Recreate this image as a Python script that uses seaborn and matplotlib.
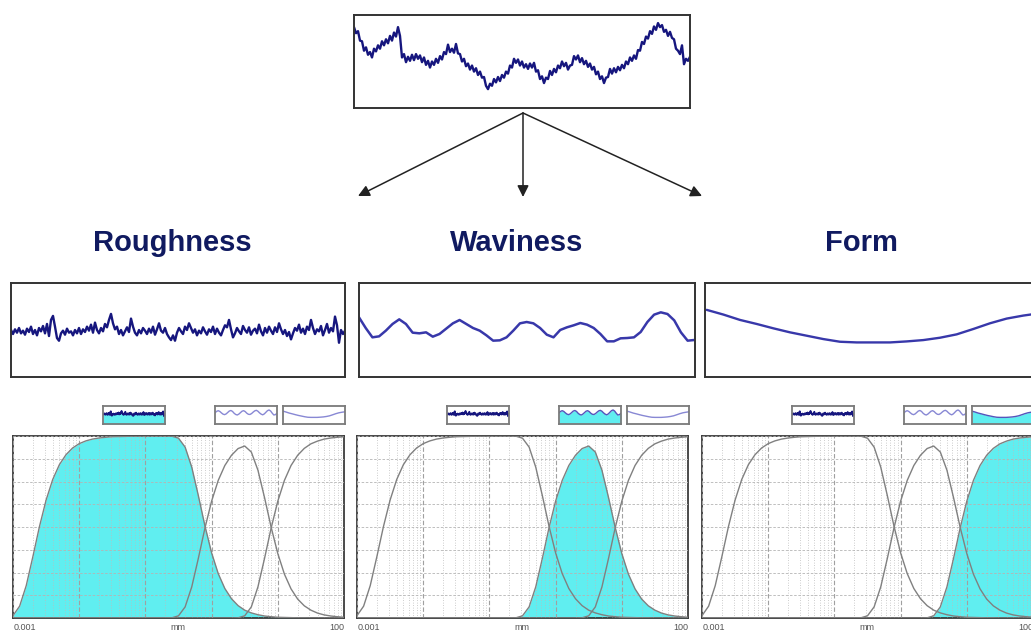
import numpy as np
import matplotlib
matplotlib.use("Agg")
import matplotlib.pyplot as plt
from matplotlib.ticker import LogLocator
import seaborn as sns

# ---------------- surface traces (height units along the trace) ----------------
primary_profile = [
    240, 222, 228, 200, 198, 170, 180, 158, 166, 150,
    176, 168, 186, 176, 198, 186, 204, 192, 214, 200,
    224, 212, 240, 214, 150, 160, 136, 152, 140, 158,
    142, 160, 146, 156, 136, 150, 128, 140, 120, 138,
    128, 146, 134, 154, 144, 166, 160, 188, 166, 176,
    164, 190, 162, 160, 138, 146, 124, 132, 114, 126,
    108, 118, 98, 108, 90, 92, 66, 56, 72, 66,
    86, 76, 92, 80, 98, 90, 108, 102, 126, 120,
    146, 134, 144, 126, 138, 120, 130, 116, 132, 120,
    134, 108, 112, 86, 94, 74, 90, 86, 110, 98,
    116, 106, 126, 118, 138, 124, 134, 114, 126, 128,
    154, 144, 156, 136, 148, 130, 140, 122, 132, 114,
    122, 100, 108, 86, 94, 74, 90, 92, 116, 102,
    118, 106, 122, 112, 128, 118, 138, 130, 150, 140,
    156, 146, 172, 170, 196, 190, 212, 206, 228, 220,
    242, 232, 252, 240, 246, 226, 232, 214, 226, 208,
    204, 176, 170, 160, 186, 130, 146, 140, 152,
]

roughness_profile = [
    140, 128, 142, 132, 146, 130, 138, 126, 144, 134,
    150, 128, 140, 124, 146, 136, 152, 130, 158, 122,
    170, 182, 150, 116, 108, 130, 138, 126, 144, 132,
    136, 124, 140, 130, 146, 128, 142, 134, 150, 138,
    156, 132, 162, 140, 130, 146, 136, 158, 148, 170,
    188, 160, 142, 150, 128, 140, 124, 136, 148, 134,
    174, 150, 132, 124, 140, 130, 146, 138, 128, 144,
    132, 150, 126, 142, 160, 138, 132, 146, 128, 118,
    110, 124, 108, 132, 146, 136, 128, 150, 140, 160,
    146, 132, 142, 124, 138, 130, 148, 136, 126, 142,
    134, 150, 128, 144, 132, 124, 140, 154, 148, 170,
    142, 118, 130, 146, 136, 128, 152, 140, 132, 148,
    126, 138, 144, 130, 156, 136, 124, 146, 132, 150,
    138, 128, 148, 134, 160, 142, 128, 140, 122, 134,
    112, 130, 146, 138, 156, 132, 144, 128, 150, 140,
    170, 146, 128, 142, 136, 152, 124, 140, 158, 132,
    146, 136, 180, 154, 102, 140, 128, 138,
]

waviness_profile = [
    179, 147, 119, 122, 139, 159, 173, 159, 133, 131,
    134, 121, 129, 145, 161, 171, 159, 147, 139, 125,
    109, 110, 119, 139, 161, 165, 161, 147, 127, 119,
    141, 149, 155, 162, 157, 147, 129, 107, 107, 116,
    117, 119, 135, 165, 187, 194, 189, 170, 134, 109,
    111,
]

form_profile = [200, 186, 170, 158, 145, 133, 123, 113, 105, 103, 103,
                103, 106, 110, 117, 127, 143, 160, 174, 183, 190]

wave_icon = [0.62, 0.70, 0.74, 0.70, 0.62, 0.55, 0.52, 0.56, 0.64, 0.72,
             0.75, 0.70, 0.60, 0.53, 0.50, 0.55, 0.63, 0.71, 0.74, 0.69,
             0.60, 0.54, 0.53, 0.58, 0.66, 0.73, 0.76, 0.71, 0.62, 0.55,
             0.51, 0.56, 0.65, 0.74, 0.78, 0.72, 0.60, 0.50, 0.52, 0.60]

# ---------------- filter transmission against wavelength ----------------
log_wavelength_mm = [k / 10 for k in range(-30, 21)]   # 0.001 mm ... 100 mm

roughness_tx = [
    0.013, 0.065, 0.178, 0.337, 0.503, 0.648, 0.761, 0.842, 0.897, 0.934,
    0.958, 0.973, 0.983, 0.989, 0.993, 0.996, 0.997, 0.998, 0.999, 0.999,
    1.000, 1.000, 1.000, 1.000, 0.999, 0.988, 0.939, 0.829, 0.672, 0.505,
    0.358, 0.244, 0.162, 0.106, 0.068, 0.043, 0.028, 0.018, 0.011, 0.007,
    0.004, 0.003, 0.002, 0.001, 0.001, 0.000, 0.000, 0.000, 0.000, 0.000,
    0.000,
]
waviness_tx = [0.0] * 24 + [
    0.001, 0.012, 0.061, 0.171, 0.328, 0.495, 0.642, 0.756, 0.838, 0.894,
    0.931, 0.945, 0.912, 0.812, 0.661, 0.498, 0.354, 0.241, 0.160, 0.104,
    0.067, 0.043, 0.027, 0.017, 0.011, 0.007, 0.004,
]
form_tx = [0.0] * 34 + [
    0.001, 0.012, 0.061, 0.171, 0.328, 0.495, 0.642, 0.756, 0.838, 0.894,
    0.932, 0.957, 0.972, 0.983, 0.989, 0.993, 0.996,
]

titles = ["Roughness", "Waviness", "Form"]
axis_labels = ["0.001", "mm", "100"]

# ---------------- styling ----------------
sns.set_theme(style="white")
plt.rcParams["font.family"] = ["Liberation Sans", "DejaVu Sans"]

CYAN = "#60EEF0"
NAVY = "#16167e"
WAVE = "#3838aa"
ICON_LINE = "#8888d4"
CURVE_GREY = "#808080"
TITLE_COLOR = "#101a60"

W, H = 1031, 632
fig = plt.figure(figsize=(W / 100, H / 100), dpi=100)
fig.patch.set_facecolor("white")


def rect(x0, y0, w, h):
    return [x0 / W, 1 - (y0 + h) / H, w / W, h / H]


def frame(ax, color="#333333", lw=1.4):
    ax.set_xticks([])
    ax.set_yticks([])
    ax.set_xlabel("")
    ax.set_ylabel("")
    ax.set_facecolor("white")
    for s in ax.spines.values():
        s.set_visible(True)
        s.set_color(color)
        s.set_linewidth(lw)


def draw_trace(ax, values, x0, step, color, lw, ylim, xlim=None, fill_to=None):
    xs = x0 + step * np.arange(len(values))
    if fill_to is not None:
        ax.fill_between(xs, fill_to, values, color=CYAN, lw=0)
    sns.lineplot(x=xs, y=np.asarray(values, float), ax=ax, color=color,
                 linewidth=lw, estimator=None)
    ax.set_xlim(*(xlim if xlim else (xs[0], xs[-1])))
    ax.set_ylim(*ylim)


# overlay canvas for arrows, headings and axis captions
canvas = fig.add_axes([0, 0, 1, 1])
canvas.set_xlim(0, W)
canvas.set_ylim(H, 0)
canvas.axis("off")

# primary (unfiltered) profile
ax_top = fig.add_axes(rect(354, 15, 336, 93))
draw_trace(ax_top, primary_profile, 12, 6, NAVY, 1.7, (0, 276))
frame(ax_top)

# separation arrows
for tip in [(358, 196), (523, 197), (702, 196)]:
    canvas.annotate("", xy=tip, xytext=(523, 113),
                    arrowprops=dict(arrowstyle="-|>", color="#222222", lw=1.1,
                                    mutation_scale=17, shrinkA=0, shrinkB=0))

# headings
for cx, t in zip([172, 517, 861], titles):
    canvas.text(cx, 251, t, ha="center", va="baseline", fontsize=21,
                fontweight="bold", color=TITLE_COLOR)

# component profiles
ax_r = fig.add_axes(rect(11, 283, 334, 94))
draw_trace(ax_r, roughness_profile, 36, 6, NAVY, 1.7, (0, 280))
frame(ax_r)

ax_w = fig.add_axes(rect(359, 283, 336, 94))
draw_trace(ax_w, waviness_profile, 12, 20, WAVE, 1.8, (0, 282), xlim=(12, 1014))
frame(ax_w)

ax_f = fig.add_axes(rect(705, 283, 336, 94))
draw_trace(ax_f, form_profile, 50, 50, WAVE, 1.7, (0, 280), xlim=(45, 1053))
frame(ax_f)

# filter transmission panels with selector icons
wavelength = 10.0 ** np.array(log_wavelength_mm)
curves = [roughness_tx, waviness_tx, form_tx]
panel_left = [13, 357, 702]
icon_offsets = [90, 202, 270]

for k, left in enumerate(panel_left):
    ax = fig.add_axes(rect(left, 436, 331, 182))
    ax.set_xscale("log")
    ax.fill_between(wavelength, 0, curves[k], color=CYAN, lw=0, zorder=1)
    for c in curves:
        sns.lineplot(x=wavelength, y=np.asarray(c, float), ax=ax,
                     color=CURVE_GREY, linewidth=1.0, estimator=None, zorder=3)
    ax.set_xlim(1e-3, 1e2)
    ax.set_ylim(0, 1)
    ax.xaxis.set_major_locator(LogLocator(base=10))
    ax.xaxis.set_minor_locator(LogLocator(base=10, subs=np.arange(2, 10)))
    ax.set_yticks(np.arange(0, 1.001, 0.125))
    ax.set_axisbelow(False)
    ax.grid(which="major", axis="x", color="#a0a0a0", ls=(0, (4, 2)), lw=0.8)
    ax.grid(which="minor", axis="x", color="#bcbcbc", ls=(0, (1, 2)), lw=0.6)
    ax.grid(which="major", axis="y", color="#b4b4b4", ls=(0, (3, 2)), lw=0.6)
    ax.tick_params(which="both", length=0, labelbottom=False, labelleft=False)
    ax.set_xlabel("")
    ax.set_ylabel("")
    for s in ax.spines.values():
        s.set_visible(True)
        s.set_color("#3a3a3a")
        s.set_linewidth(1.3)

    canvas.text(left + 1, 628, axis_labels[0], ha="left", va="center",
                fontsize=6.5, color="#555555")
    canvas.text(left + 165, 628, axis_labels[1], ha="center", va="center",
                fontsize=6.5, color="#555555")
    canvas.text(left + 331, 628, axis_labels[2], ha="right", va="center",
                fontsize=6.5, color="#555555")

    # icons: roughness, waviness, form
    icon_specs = [
        (roughness_profile, NAVY, 1.3, (-30, 270)),
        (wave_icon, ICON_LINE, 1.0, (0, 1)),
        (form_profile, ICON_LINE, 1.0, (0, 280)),
    ]
    for j, (vals, col, lw, yl) in enumerate(icon_specs):
        ia = fig.add_axes(rect(left + icon_offsets[j], 406, 62, 18))
        selected = j == k
        line_col = col if (j == 0 or not selected) else "#5555bb"
        draw_trace(ia, vals, 0, 1, line_col, lw, yl,
                   fill_to=yl[0] if selected else None)
        frame(ia, color="#7a7a7a", lw=1.3)

fig.savefig("out.png", dpi=100, facecolor="white")
